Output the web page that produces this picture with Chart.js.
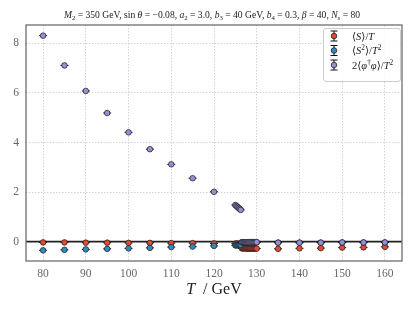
<!DOCTYPE html>
<html>
<head>
<meta charset="utf-8">
<script src="https://cdn.jsdelivr.net/npm/chart.js@4.4.1/dist/chart.umd.min.js"></script>
<style>
  html, body { margin: 0; padding: 0; background: #fff; }
  #wrap { width: 415px; height: 311px; position: relative; }
</style>
</head>
<body>
<div id="wrap"><canvas id="latticeChart"></canvas></div>
<script>
// lattice observables vs temperature

const TEMPS = [
    80, 85, 90, 95, 100, 105, 110, 115, 120,
    125, 125.25, 125.5, 125.75, 126, 126.25,
    126.5, 126.75, 127, 127.25, 127.5, 127.75, 128, 128.25, 128.5, 128.75, 129, 129.25, 129.5, 129.75, 130,
    135, 140, 145, 150, 155, 160
];
const S_OVER_T = [
    -0.03, -0.03, -0.04, -0.04, -0.05, -0.05, -0.06, -0.06, -0.07,
    -0.08, -0.08, -0.08, -0.09, -0.09, -0.09,
    -0.27, -0.27, -0.27, -0.27, -0.27, -0.28, -0.28, -0.28, -0.28, -0.28, -0.28, -0.28, -0.28, -0.28, -0.28,
    -0.29, -0.27, -0.26, -0.24, -0.23, -0.21
];
const S2_OVER_T2 = [
    -0.35, -0.33, -0.31, -0.29, -0.27, -0.25, -0.22, -0.20, -0.17,
    -0.15, -0.15, -0.14, -0.14, -0.13, -0.13,
    -0.03, -0.03, -0.03, -0.03, -0.03, -0.03, -0.03, -0.03, -0.03, -0.03, -0.03, -0.03, -0.03, -0.03, -0.03,
    -0.04, -0.04, -0.04, -0.04, -0.04, -0.04
];
const PHI2_OVER_T2 = [
    8.31, 7.11, 6.08, 5.19, 4.41, 3.73, 3.12, 2.56, 2.01,
    1.48, 1.44, 1.40, 1.36, 1.32, 1.28,
    -0.02, -0.02, -0.02, -0.02, -0.02, -0.02, -0.02, -0.02, -0.02, -0.02, -0.02, -0.02, -0.02, -0.02, -0.02,
    -0.04, -0.04, -0.04, -0.03, -0.03, -0.03
];

const X_MIN = 76, X_MAX = 164;
const Y_MIN = -0.78, Y_MAX = 8.74;

const COLORS = ['#E24A33', '#348ABD', '#988ED5'];
const FONT = "'Liberation Serif', 'DejaVu Serif', serif";

// text runs: t = text, i = italic, s = 'sub' | 'sup'
const TITLE_RUNS = [
    { t: 'M', i: true }, { t: '2', s: 'sub' }, { t: ' = 350 GeV, sin ' }, { t: 'θ', i: true },
    { t: ' = −0.08, ' }, { t: 'a', i: true }, { t: '2', s: 'sub' }, { t: ' = 3.0, ' },
    { t: 'b', i: true }, { t: '3', s: 'sub' }, { t: ' = 40 GeV, ' },
    { t: 'b', i: true }, { t: '4', s: 'sub' }, { t: ' = 0.3, ' },
    { t: 'β', i: true }, { t: ' = 40, ' }, { t: 'N', i: true }, { t: 's', i: true, s: 'sub' }, { t: ' = 80' }
];
const LEGEND_RUNS = [
    [{ t: '⟨' }, { t: 'S', i: true }, { t: '⟩/' }, { t: 'T', i: true }],
    [{ t: '⟨' }, { t: 'S', i: true }, { t: '2', s: 'sup' }, { t: '⟩/' }, { t: 'T', i: true }, { t: '2', s: 'sup' }],
    [{ t: '2⟨' }, { t: 'φ', i: true }, { t: '†', s: 'sup' }, { t: 'φ', i: true }, { t: '⟩/' }, { t: 'T', i: true }, { t: '2', s: 'sup' }]
];
const XTITLE_RUNS = [{ t: 'T', i: true }, { t: '  / GeV' }];

function drawRuns(ctx, runs, x, y, size, align) {
    let total = 0;
    const parts = runs.map(r => {
        const fs = r.s ? size * 0.7 : size;
        const font = (r.i ? 'italic ' : '') + fs + 'px ' + FONT;
        ctx.font = font;
        const w = ctx.measureText(r.t).width;
        total += w;
        const dy = r.s === 'sub' ? size * 0.22 : (r.s === 'sup' ? -size * 0.38 : 0);
        return { t: r.t, font, w, dy };
    });
    let cx = align === 'center' ? x - total / 2 : x;
    ctx.textAlign = 'left';
    ctx.textBaseline = 'alphabetic';
    parts.forEach(p => {
        ctx.font = p.font;
        ctx.fillText(p.t, cx, y + p.dy);
        cx += p.w;
    });
}

function toPoints(values) {
    return TEMPS.map((t, i) => ({ x: t, y: values[i] }));
}

// zero line + error bar caps under the markers
const decorPlugin = {
    id: 'decor',
    beforeDatasetsDraw(chart) {
        const { ctx, chartArea, scales } = chart;
        const y0 = scales.y.getPixelForValue(0);
        ctx.save();
        ctx.strokeStyle = '#222';
        ctx.lineWidth = 1.6;
        ctx.beginPath();
        ctx.moveTo(chartArea.left, y0);
        ctx.lineTo(chartArea.right, y0);
        ctx.stroke();
        ctx.restore();
    },
    beforeDatasetDraw(chart, args) {
        const ctx = chart.ctx;
        ctx.save();
        ctx.strokeStyle = '#111';
        ctx.lineWidth = 1;
        args.meta.data.forEach(pt => {
            ctx.beginPath();
            ctx.moveTo(pt.x - 4, pt.y);
            ctx.lineTo(pt.x + 4, pt.y);
            ctx.stroke();
        });
        ctx.restore();
    },
    afterDraw(chart) {
        const { ctx, chartArea } = chart;
        ctx.save();

        // frame
        ctx.strokeStyle = '#6e6e6e';
        ctx.lineWidth = 1.3;
        ctx.strokeRect(chartArea.left, chartArea.top, chartArea.right - chartArea.left, chartArea.bottom - chartArea.top);

        // title
        ctx.fillStyle = '#222';
        drawRuns(ctx, TITLE_RUNS, 212, 17.5, 9.6, 'center');

        // x axis title
        ctx.fillStyle = '#222';
        drawRuns(ctx, XTITLE_RUNS, (chartArea.left + chartArea.right) / 2, 294, 16, 'center');

        // legend
        const bx = 323.5, by = 28.5, bw = 77, bh = 53;
        ctx.fillStyle = 'rgba(255,255,255,0.85)';
        ctx.strokeStyle = '#cccccc';
        ctx.lineWidth = 1;
        ctx.beginPath();
        ctx.roundRect(bx, by, bw, bh, 2.5);
        ctx.fill();
        ctx.stroke();
        LEGEND_RUNS.forEach((runs, i) => {
            const sy = 36 + i * 14.5;
            const sx = 334;
            ctx.strokeStyle = '#111';
            ctx.lineWidth = 1;
            ctx.beginPath();
            ctx.moveTo(sx, sy - 5); ctx.lineTo(sx, sy + 5);
            ctx.moveTo(sx - 3.5, sy - 5); ctx.lineTo(sx + 3.5, sy - 5);
            ctx.moveTo(sx - 3.5, sy + 5); ctx.lineTo(sx + 3.5, sy + 5);
            ctx.stroke();
            ctx.fillStyle = COLORS[i];
            ctx.lineWidth = 0.7;
            ctx.beginPath();
            ctx.arc(sx, sy, 2.8, 0, Math.PI * 2);
            ctx.fill();
            ctx.stroke();
            ctx.fillStyle = '#222';
            drawRuns(ctx, runs, 352, sy + 3.5, 10.5, 'left');
        });
        ctx.restore();
    }
};

function makeDataset(label, values, color, order) {
    return {
        label,
        data: toPoints(values),
        backgroundColor: color,
        borderColor: '#1a1a1a',
        borderWidth: 0.7,
        pointRadius: 2.8,
        pointHoverRadius: 2.8,
        showLine: false,
        order
    };
}

const gridStyle = { color: '#c8c8c8', lineWidth: 0.8, drawTicks: false };

new Chart(document.getElementById('latticeChart').getContext('2d'), {
    type: 'scatter',
    data: {
        datasets: [
            makeDataset('S/T', S_OVER_T, COLORS[0], 2),
            makeDataset('S2/T2', S2_OVER_T2, COLORS[1], 1),
            makeDataset('phi/T2', PHI2_OVER_T2, COLORS[2], 0)
        ]
    },
    options: {
        responsive: true,
        maintainAspectRatio: false,
        animation: false,
        layout: { padding: { left: 0, right: 13, top: 25, bottom: 0 } },
        plugins: {
            legend: { display: false },
            tooltip: { enabled: false }
        },
        scales: {
            x: {
                type: 'linear',
                min: X_MIN,
                max: X_MAX,
                afterFit: s => { s.height = 50; },
                ticks: { stepSize: 10, includeBounds: false, padding: 6, color: '#666', font: { family: FONT, size: 11.5 } },
                grid: gridStyle,
                border: { display: false, dash: [1.5, 1.5] }
            },
            y: {
                type: 'linear',
                min: Y_MIN,
                max: Y_MAX,
                afterFit: s => { s.width = 26; },
                ticks: { stepSize: 2, includeBounds: false, padding: 7, color: '#666', font: { family: FONT, size: 11.5 } },
                grid: gridStyle,
                border: { display: false, dash: [1.5, 1.5] }
            }
        }
    },
    plugins: [decorPlugin]
});
</script>
</body>
</html>
